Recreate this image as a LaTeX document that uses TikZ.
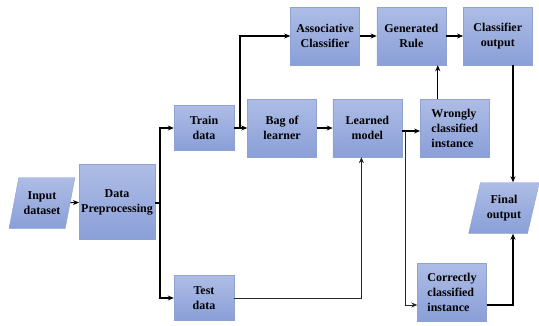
\documentclass[tikz,border=0pt]{standalone}
\usepackage{fontspec}
\setmainfont{Liberation Serif}[BoldFont={Liberation Serif Bold}]
\usepackage{tikz}
\usetikzlibrary{positioning,arrows.meta,shapes.geometric}
\definecolor{azulclaro}{HTML}{AEBDE6}
\definecolor{azulescuro}{HTML}{8A9FD8}
\definecolor{borda}{HTML}{8FA2D2}

\begin{document}
\begin{tikzpicture}[x=1pt,y=-1pt,node distance=17pt,
  bloco/.style={rectangle,draw=borda,top color=azulclaro,bottom color=azulescuro,align=center,font=\rmfamily\fontsize{12}{15}\selectfont\bfseries,inner sep=2pt,minimum width=69pt,minimum height=58pt},
  entrada/.style={trapezium,trapezium left angle=72,trapezium right angle=108,trapezium stretches=true,draw=borda,top color=azulclaro,bottom color=azulescuro,align=center,font=\rmfamily\fontsize{12}{15}\selectfont\bfseries,inner sep=1pt,minimum width=66pt,minimum height=51pt},
  seta/.style={-{Stealth[length=6pt,width=5pt]},line width=1.1pt,black},
  linha/.style={line width=1.1pt,black},
  fina/.style={-{Stealth[length=6pt,width=5pt]},line width=0.7pt,black!85}]
\useasboundingbox (0,0) rectangle (539,325);
% left part
\node[entrada] (inp) at (42,203) {Input\\dataset};
\node[bloco,minimum width=72pt,minimum height=75pt] (pre) at (117,202) {Data\\Preprocessing};
\node[bloco,minimum width=60pt,minimum height=45pt] (train) at (204,128) {Train\\data};
\node[bloco,minimum width=60pt,minimum height=45pt] (test) at (204,298) {Test\\data};
% middle row
\node[bloco] (bag) at (282,128) {Bag of\\learner};
\node[bloco,right=16pt of bag] (learn) {Learned\\model};
\node[bloco,right=18pt of learn,align=left] (wrong) {Wrongly\\classified\\instance};
\node[bloco,align=left] (corr) at (452,292) {Correctly\\classified\\instance};
% top row
\node[bloco] (assoc) at (325,36) {Associative\\Classifier};
\node[bloco,right=of assoc] (gen) {Generated\\Rule};
\node[bloco,right=of gen] (cls) {Classifier\\output};
\node[entrada,minimum width=71pt] (fin) at (504,208) {Final\\output};
% branch points
\coordinate (ramo0) at (160,203);
\coordinate (ramo1) at (240,128);
\coordinate (ramo2) at (405,131);
\coordinate (colx) at (513,0);
\draw[seta] (inp) -- (pre);
\draw[linha] (pre.east |- ramo0) -- (ramo0);
\draw[seta] (ramo0) |- (train.west);
\draw[seta] (ramo0) |- (test.west);
\draw[seta] (train) -- (bag);
\draw[seta] (ramo1) |- (assoc.west);
\draw[seta] (bag) -- (learn);
\draw[fina] (test.east) -| ([xshift=-6pt]learn.south);
\draw[seta] (learn.east |- ramo2) -- (wrong.west |- ramo2);
\draw[fina] (ramo2) |- ([yshift=-13pt]corr.west);
\draw[seta] (assoc) -- (gen);
\draw[seta] (gen) -- (cls);
\draw[seta] ([xshift=-17pt]wrong.north) -- ([xshift=-17pt]wrong.north |- gen.south);
\draw[seta] (cls.south -| colx) -- (fin.north -| colx);
\draw[seta] ([yshift=-13pt]corr.east) -| (fin.south -| colx);
\end{tikzpicture}
\end{document}
